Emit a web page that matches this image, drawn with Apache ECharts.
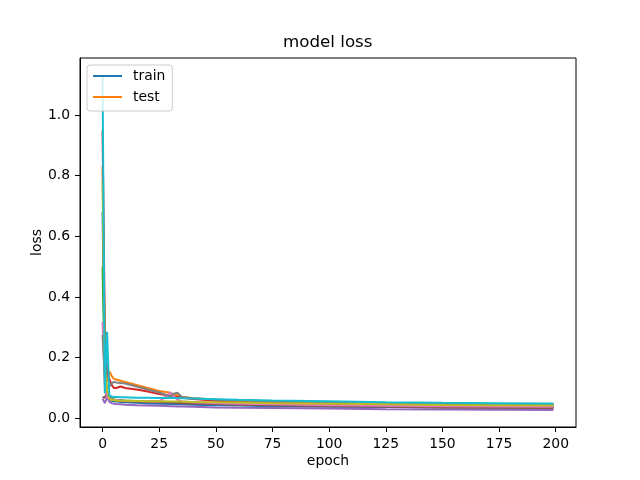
<!DOCTYPE html>
<html>
<head>
<meta charset="utf-8">
<script src="https://cdn.jsdelivr.net/npm/echarts@6/dist/echarts.min.js"></script>
<style>
  html, body { margin: 0; padding: 0; background: #fff; }
  #myChart { width: 640px; height: 480px; }
</style>
</head>
<body>
<div id="myChart"></div>
<script>
var epochs = [0, 1, 2, 3, 4, 5, 6, 8, 10, 15, 20, 25, 30, 31, 33, 35, 40, 50, 60, 75, 100, 125, 150, 175, 199];

var blueLoss   = [0.68, 0.15, 0.08, 0.062, 0.058, 0.056, 0.055, 0.054, 0.053, 0.051, 0.049, 0.048, 0.047, 0.047, 0.046, 0.046, 0.045, 0.043, 0.042, 0.040, 0.038, 0.037, 0.036, 0.035, 0.035];
var orangeLoss = [0.83, 0.20, 0.12, 0.154, 0.14, 0.13, 0.128, 0.124, 0.12, 0.11, 0.10, 0.09, 0.084, 0.080, 0.075, 0.070, 0.066, 0.061, 0.058, 0.055, 0.052, 0.050, 0.048, 0.047, 0.046];
var greenLoss  = [0.50, 0.12, 0.07, 0.065, 0.063, 0.062, 0.061, 0.060, 0.059, 0.057, 0.056, 0.055, 0.054, 0.054, 0.053, 0.053, 0.052, 0.050, 0.048, 0.046, 0.043, 0.041, 0.039, 0.037, 0.036];
var redLoss    = [0.95, 0.30, 0.15, 0.13, 0.11, 0.10, 0.10, 0.105, 0.10, 0.095, 0.088, 0.080, 0.074, 0.072, 0.070, 0.068, 0.064, 0.058, 0.054, 0.050, 0.046, 0.043, 0.041, 0.040, 0.039];
var purpleLoss = [0.065, 0.05, 0.07, 0.055, 0.05, 0.048, 0.047, 0.046, 0.045, 0.043, 0.042, 0.041, 0.040, 0.040, 0.039, 0.039, 0.038, 0.036, 0.035, 0.034, 0.032, 0.030, 0.029, 0.028, 0.027];
var brownLoss  = [0.07, 0.068, 0.085, 0.07, 0.065, 0.06, 0.058, 0.057, 0.056, 0.055, 0.054, 0.053, 0.052, 0.052, 0.051, 0.050, 0.049, 0.047, 0.045, 0.043, 0.040, 0.038, 0.036, 0.035, 0.034];
var pinkLoss   = [0.318, 0.10, 0.07, 0.065, 0.062, 0.06, 0.06, 0.059, 0.058, 0.057, 0.056, 0.055, 0.085, 0.075, 0.062, 0.055, 0.053, 0.050, 0.048, 0.046, 0.043, 0.041, 0.040, 0.039, 0.038];
var grayLoss   = [0.275, 0.14, 0.10, 0.105, 0.115, 0.12, 0.118, 0.116, 0.115, 0.105, 0.095, 0.085, 0.072, 0.080, 0.084, 0.070, 0.066, 0.062, 0.059, 0.056, 0.053, 0.050, 0.048, 0.046, 0.045];
var oliveLoss  = [0.78, 0.18, 0.09, 0.065, 0.06, 0.06, 0.059, 0.058, 0.058, 0.057, 0.056, 0.056, 0.055, 0.055, 0.055, 0.055, 0.054, 0.053, 0.052, 0.050, 0.048, 0.046, 0.044, 0.043, 0.042];
var cyanLoss   = [1.133, 0.083, 0.285, 0.075, 0.072, 0.07, 0.07, 0.069, 0.069, 0.068, 0.068, 0.067, 0.067, 0.067, 0.067, 0.066, 0.065, 0.063, 0.061, 0.059, 0.056, 0.053, 0.051, 0.050, 0.049];

var xTicks = [0, 25, 50, 75, 100, 125, 150, 175, 200];
var yTicks = [0, 0.2, 0.4, 0.6, 0.8, 1.0];

var lines = [
  {name: 'train', color: '#1f77b4', values: blueLoss},
  {name: 'test', color: '#ff7f0e', values: orangeLoss},
  {name: 'run3', color: '#2ca02c', values: greenLoss},
  {name: 'run4', color: '#d62728', values: redLoss},
  {name: 'run5', color: '#9467bd', values: purpleLoss},
  {name: 'run6', color: '#8c564b', values: brownLoss},
  {name: 'run7', color: '#e377c2', values: pinkLoss},
  {name: 'run8', color: '#7f7f7f', values: grayLoss},
  {name: 'run9', color: '#bcbd22', values: oliveLoss},
  {name: 'run10', color: '#17becf', values: cyanLoss}
];

var font = 'DejaVu Sans';

var series = lines.map(function (l) {
  return {
    name: l.name,
    type: 'line',
    symbol: 'none',
    color: l.color,
    lineStyle: {width: 2, color: l.color},
    data: epochs.map(function (e, i) { return [e, l.values[i]]; })
  };
});

var option = {
  animation: false,
  backgroundColor: '#fff',
  title: {
    text: 'model loss',
    left: 283,
    top: 34,
    padding: 0,
    textStyle: {fontFamily: font, fontSize: 16.7, fontWeight: 'normal', color: '#000'}
  },
  legend: {
    data: ['train', 'test'],
    orient: 'vertical',
    left: 87,
    top: 65,
    padding: [4, 7, 7, 5],
    itemGap: 7,
    itemWidth: 29,
    itemHeight: 14,
    itemStyle: {opacity: 0},
    lineStyle: {width: 2},
    backgroundColor: 'rgba(255,255,255,0.8)',
    borderColor: '#cccccc',
    borderWidth: 1,
    borderRadius: 3,
    textStyle: {fontFamily: font, fontSize: 13.9, color: '#000', padding: [0, 0, 0, 6]}
  },
  grid: {
    left: 80,
    right: 64,
    top: 58,
    bottom: 53,
    show: true,
    borderColor: '#000',
    borderWidth: 1,
    backgroundColor: '#fff'
  },
  xAxis: {
    type: 'value',
    min: -9.95,
    max: 208.95,
    name: 'epoch',
    nameLocation: 'middle',
    nameGap: 27,
    nameMoveOverlap: false,
    nameTextStyle: {fontFamily: font, fontSize: 13.9, color: '#000'},
    axisLine: {onZero: false, lineStyle: {color: '#000', width: 1}},
    axisTick: {show: true, length: 5, customValues: xTicks, lineStyle: {color: '#000'}},
    axisLabel: {customValues: xTicks, margin: 10, fontFamily: font, fontSize: 13.9, color: '#000'},
    splitLine: {show: false}
  },
  yAxis: {
    type: 'value',
    min: -0.0287,
    max: 1.188,
    name: 'loss',
    nameLocation: 'middle',
    nameGap: 36,
    nameMoveOverlap: false,
    nameTextStyle: {fontFamily: font, fontSize: 13.9, color: '#000'},
    axisLine: {show: true, onZero: false, lineStyle: {color: '#000', width: 1}},
    axisTick: {show: true, length: 5, customValues: yTicks, lineStyle: {color: '#000'}},
    axisLabel: {
      customValues: yTicks,
      margin: 10,
      fontFamily: font,
      fontSize: 13.9,
      color: '#000',
      formatter: function (v) { return v.toFixed(1); }
    },
    splitLine: {show: false}
  },
  series: series
};

var myChart = echarts.init(document.getElementById('myChart'));
myChart.setOption(option, true);
</script>
</body>
</html>
